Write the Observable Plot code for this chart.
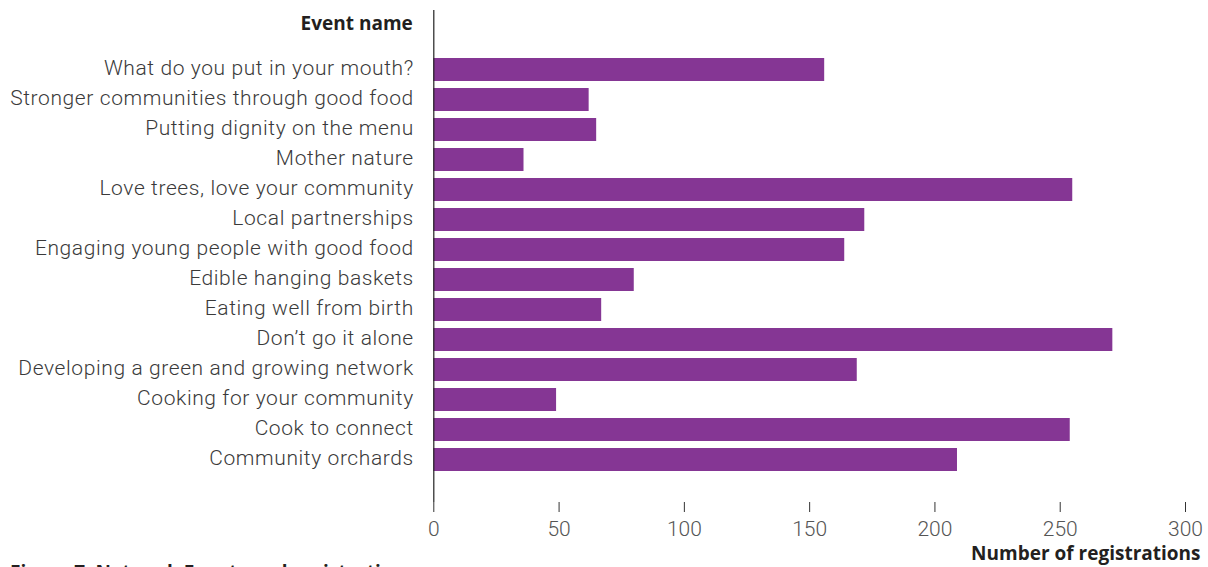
<!DOCTYPE html>
<html>
<head>
<meta charset="utf-8">
<script src="https://cdn.jsdelivr.net/npm/d3@7"></script>
<script src="https://cdn.jsdelivr.net/npm/@observablehq/plot@0.6"></script>
<style>
  html, body { margin: 0; padding: 0; background: #fff; overflow: hidden; }
  #wrap { position: relative; width: 1208px; height: 567px; }
  #caption { position: absolute; left: 10px; top: 563px; font: 700 19px/19px "Open Sans", Lato, sans-serif; color: #231f20; white-space: nowrap; }
</style>
</head>
<body>
<div id="wrap">
  <div id="chart"></div>
  <div id="caption">Figure 7: Network Events and registrations</div>
</div>
<script>
const events = [
  "What do you put in your mouth?",
  "Stronger communities through good food",
  "Putting dignity on the menu",
  "Mother nature",
  "Love trees, love your community",
  "Local partnerships",
  "Engaging young people with good food",
  "Edible hanging baskets",
  "Eating well from birth",
  "Don’t go it alone",
  "Developing a green and growing network",
  "Cooking for your community",
  "Cook to connect",
  "Community orchards"
];
const registrations = [156, 62, 65, 36, 255, 172, 164, 80, 67, 271, 169, 49, 254, 209];
const xTicks = [0, 50, 100, 150, 200, 250, 300];
const yLabel = "Event name";
const xLabel = "Number of registrations";

const data = events.map((e, i) => ({event: e, value: registrations[i]}));

const font = "Roboto, Lato, sans-serif";
const boldFont = "'Open Sans', Lato, sans-serif";

const chart = Plot.plot({
  width: 1208,
  height: 558,
  marginLeft: 433.3,
  marginRight: 23,
  marginTop: 10,
  marginBottom: 56,
  style: {fontFamily: font, fontSize: "21px", fontWeight: 300, color: "#3c3c3c", background: "#fff", overflow: "visible"},
  x: {domain: [0, 300], ticks: xTicks, label: null},
  y: {domain: events, range: [57.3, 472], paddingInner: 0.247, paddingOuter: 0, label: null},
  marks: [
    Plot.barX(data, {y: "event", x: "value", fill: "#853694"}),
    Plot.axisY({tickSize: 0, tickPadding: 20, dy: -1.5, label: null, fontSize: 21, fontWeight: 300, fill: "#3a3a3a"}),
    Plot.axisX({ticks: xTicks, tickSize: 10, tickPadding: 9, label: null, fontSize: 21, fontWeight: 300, fill: "#555", stroke: "#333"}),
    Plot.ruleX([0], {stroke: "#222", strokeWidth: 1.2}),
    Plot.ruleY([0], {stroke: "#222", strokeWidth: 1.2}),
    Plot.text([yLabel], {frameAnchor: "top-left", dx: -21, dy: 6, textAnchor: "end", fontFamily: boldFont, fontWeight: 700, fontSize: 19, fill: "#231f20"}),
    Plot.text([xLabel], {frameAnchor: "bottom-right", dx: 15, dy: 57, textAnchor: "end", fontFamily: boldFont, fontWeight: 700, fontSize: 19, fill: "#231f20"})
  ]
});
d3.select(chart).selectAll('g[aria-label="y-axis tick label"] text').style("letter-spacing", "0.6px");
document.getElementById("chart").appendChild(chart);
</script>
</body>
</html>
